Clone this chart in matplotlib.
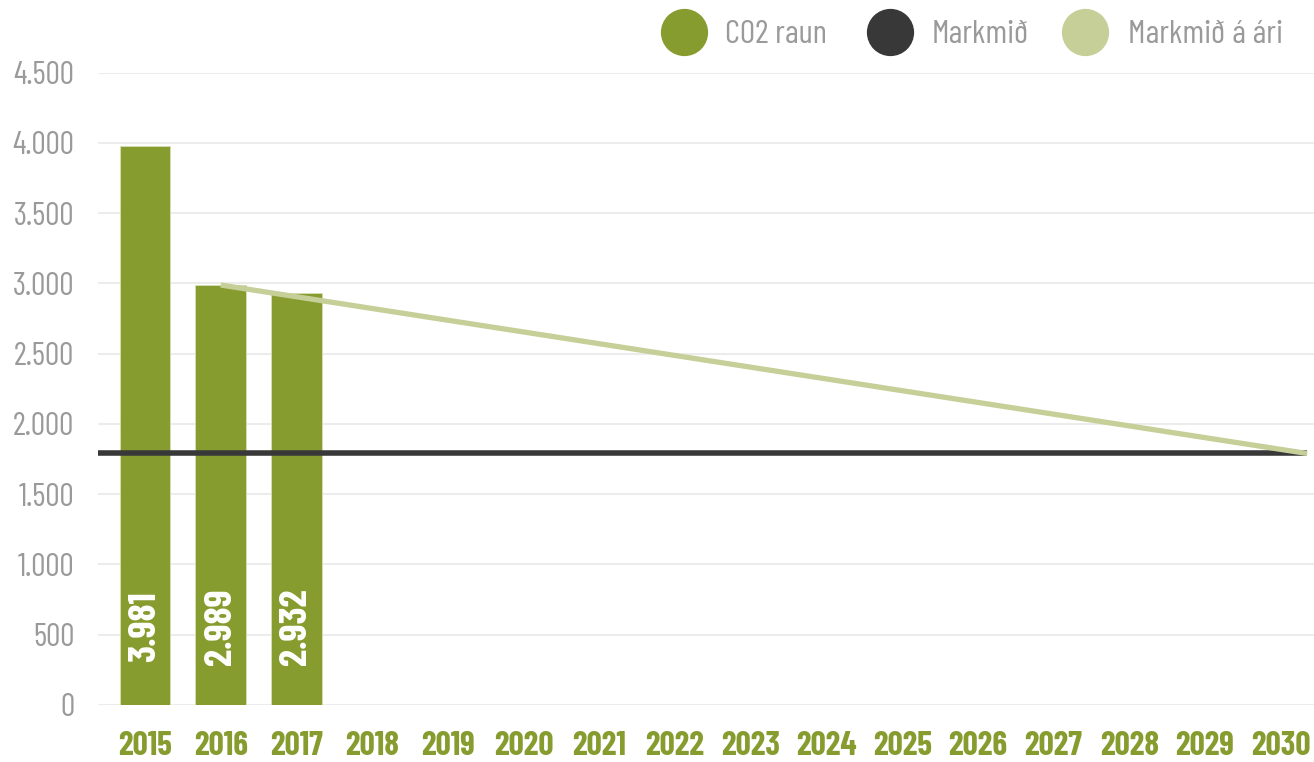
import matplotlib
matplotlib.use("Agg")
import matplotlib.pyplot as plt
from matplotlib.lines import Line2D

years = ["2015", "2016", "2017", "2018", "2019", "2020", "2021", "2022",
         "2023", "2024", "2025", "2026", "2027", "2028", "2029", "2030"]
co2_years = ["2015", "2016", "2017"]
co2_raun = [3981, 2989, 2932]
co2_labels = ["3.981", "2.989", "2.932"]
markmid = 1790
markmid_years = ["2016", "2030"]
markmid_a_ari = [2989, 1790]
y_ticks = [0, 500, 1000, 1500, 2000, 2500, 3000, 3500, 4000, 4500]
y_tick_labels = ["0", "500", "1.000", "1.500", "2.000", "2.500", "3.000", "3.500", "4.000", "4.500"]
legend_names = ["CO2 raun", "Markmið", "Markmið á ári"]

GREEN = "#879c2f"
DARK = "#383838"
LIGHT = "#c5cf97"
GRAY = "#9a9a9a"
W, H = 1314, 762

plt.rcParams["font.family"] = ["Barlow Condensed", "Roboto Condensed", "DejaVu Sans"]

fig = plt.figure(figsize = (W / 100, H / 100), dpi = 100)
ax = fig.add_axes([98 / W, 1 - 705 / H, 1 - 98 / W, (705 - 72.7) / H])

x_of = {y: i for i, y in enumerate(years)}
bar_x = [x_of[y] for y in co2_years]

ax.bar(bar_x, co2_raun, width = 0.67, color = GREEN, edgecolor = "#d8dfb5", linewidth = 0.6, zorder = 2)

# value labels sit near the foot of each bar
for x, lab in zip(bar_x, co2_labels):
    ax.text(x, 555, lab, rotation = 90, ha = "center", va = "center", color = "white",
            fontsize = 28, fontweight = "bold", zorder = 5)

xmin, xmax = -0.621, 15.44
line_end = 15.35
ax.axhline(markmid, xmin = 0, xmax = (line_end - xmin) / (xmax - xmin), color = DARK, linewidth = 4, zorder = 3, solid_capstyle = "butt")

lx = [x_of[markmid_years[0]], line_end]
ax.plot(lx, markmid_a_ari, color = LIGHT, linewidth = 3.8, zorder = 4, solid_capstyle = "butt")

ax.set_xlim(xmin, xmax)
ax.set_ylim(0, 4500)
ax.set_xticks(range(len(years)))
ax.set_xticklabels(years, color = GREEN, fontsize = 24, fontweight = "bold")
ax.set_yticks(y_ticks)
ax.set_yticklabels(y_tick_labels, color = GRAY, fontsize = 23)
ax.tick_params(axis = "x", length = 0, pad = 19)
ax.tick_params(axis = "y", length = 0, pad = 17)
ax.grid(axis = "y", color = "#ececec", linewidth = 1.5, zorder = 0)
ax.set_axisbelow(True)
for s in ax.spines.values():
    s.set_visible(False)

# legend drawn by hand so the items sit where they do in the original
circle_x = [683.5, 890, 1085]
text_x = [725, 932, 1128]
for cx, tx, name, col in zip(circle_x, text_x, legend_names, [GREEN, DARK, LIGHT]):
    fig.add_artist(Line2D([cx / W], [1 - 32 / H], marker = "o", markersize = 33, color = col,
                          linestyle = "none", transform = fig.transFigure))
    fig.text(tx / W, 1 - 43 / H, name, color = GRAY, fontsize = 24, ha = "left", va = "baseline")

fig.savefig("out.png", dpi = 100)
